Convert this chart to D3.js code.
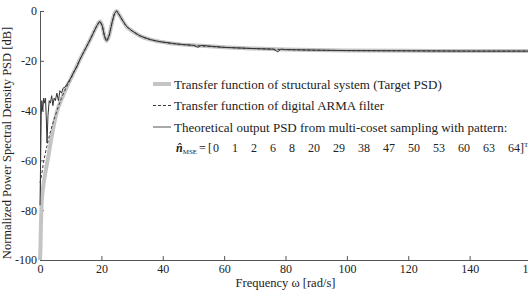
<!DOCTYPE html>
<head>
<meta charset="utf-8">
<style>
body { margin: 0; background: #fff; }
svg text { font-family: "Liberation Serif", "Times New Roman", Times, Tinos, "DejaVu Serif", "Noto Serif", serif; }
</style>
<script src="https://d3js.org/d3.v7.min.js"></script>
</head>
<body>
<svg id="psdSvg" width="528" height="292"></svg>
<script>

var width = 528;
var height = 292;

// target PSD of the structural system (thick light grey)
var targetW  = [0, 0.15, 0.3, 0.5, 1.0, 1.6, 2.7, 3.8, 5.4, 7.5, 10.3, 13, 16.3, 18.5, 19.5, 20.3, 21, 21.7, 22.5, 23.5, 24.3, 25, 25.8, 27, 28.2, 30, 32.6, 36, 39, 45, 50, 60, 70, 80, 100, 120, 140, 160];
var targetDb = [-100, -95, -86, -78, -71, -66, -58.5, -50.5, -41, -34, -26.5, -19.5, -11.6, -6, -4.2, -6, -10, -12, -10, -4.5, -1, 0, -1.5, -4, -6.2, -8, -10, -11.5, -12.3, -13.3, -13.8, -14.6, -15.1, -15.5, -15.9, -16, -16.1, -16.1];

// digital ARMA filter (dashed)
var armaW  = [0, 0.5, 1, 1.6, 2.5, 3.5, 5, 7, 10.3, 13, 16.3, 18.5, 19.5, 20.3, 21, 21.7, 22.5, 23.5, 24.3, 25, 25.8, 27, 28.2, 30, 32.6, 36, 39, 45, 50, 60, 70, 80, 100, 120, 140, 160];
var armaDb = [-69, -66, -62, -58, -53, -48, -42, -35, -26.5, -19.5, -11.6, -6, -4.2, -6, -10, -12, -10, -4.5, -1, 0, -1.5, -4, -6.2, -8, -10, -11.5, -12.3, -13.3, -13.8, -14.6, -15.1, -15.5, -15.9, -16, -16.1, -16.1];

// theoretical output PSD from multi-coset sampling (thin solid)
var outW  = [0, 0.2, 0.4, 0.6, 0.9, 1.2, 1.5, 1.8, 2.1, 2.3, 2.6, 3.0, 3.4, 3.8, 4.2, 4.6, 5.0, 5.5, 6.0, 6.5, 7.0, 7.5, 8.2, 9, 10, 11, 12, 13, 16.3, 18.5, 19.5, 20.3, 21, 21.7, 22.5, 23.5, 24.3, 25, 25.8, 27, 28.2, 30, 32.6, 36, 39, 45, 50, 51.5, 52.5, 60, 70, 76, 77.5, 78.5, 80, 100, 120, 140, 160];
var outDb = [-78, -60, -42, -36, -40, -35, -37, -35, -45, -53, -42, -36, -37, -34, -38, -35, -36, -33, -36, -32, -33, -31, -30.5, -29, -27, -24.5, -22.5, -19.5, -11.6, -6, -4.2, -6, -10, -12, -10, -4.5, -1, 0, -1.5, -4, -6.2, -8, -10, -11.5, -12.3, -13.3, -13.8, -14.6, -13.8, -14.6, -15.1, -15.3, -16.4, -15.3, -15.5, -15.9, -16, -16.1, -16.1];

var xTicks = [0, 20, 40, 60, 80, 100, 120, 140, 160];
var yTicks = [0, -20, -40, -60, -80, -100];

var legendLabels = [
    "Transfer function of structural system (Target PSD)",
    "Transfer function of digital ARMA filter",
    "Theoretical output PSD from multi-coset sampling with pattern:"
];
var patternValues = [0, 1, 2, 6, 8, 20, 29, 38, 47, 50, 53, 60, 63, 64];

var serif = "'Liberation Serif', 'Times New Roman', Times, Tinos, 'DejaVu Serif', serif";

var svg = d3.select("#psdSvg");

var x = d3.scaleLinear().domain([0, 160]).range([40, 531]);
var y = d3.scaleLinear().domain([-100, 0]).range([260, 11]);

var axisColor = "#555";
// plain hyphen for negative labels, like the original
var plain = function(d) { return String(d); };

// axes, ticks pointing inward
var xAxis = svg.append("g")
    .attr("transform", "translate(0," + y(-100) + ")")
    .call(d3.axisBottom(x).tickValues(xTicks).tickFormat(plain).tickSizeInner(-4).tickSizeOuter(0).tickPadding(4));
var yAxis = svg.append("g")
    .attr("transform", "translate(" + x(0) + ",0)")
    .call(d3.axisLeft(y).tickValues(yTicks).tickFormat(plain).tickSizeInner(-4).tickSizeOuter(0).tickPadding(3));

[xAxis, yAxis].forEach(function(a) {
    a.attr("font-family", serif);
    a.select(".domain").attr("stroke", axisColor);
    a.selectAll(".tick line").attr("stroke", axisColor);
    a.selectAll(".tick text")
        .attr("fill", "#222")
        .style("font-size", "12px");
});
xAxis.selectAll(".tick text").attr("y", 3).attr("dy", "0.8em");

var line = d3.line()
    .x(function(d) { return x(d[0]); })
    .y(function(d) { return y(d[1]); })
    .curve(d3.curveMonotoneX);

function pairs(ws, ds) {
    return ws.map(function(w, i) { return [w, ds[i]]; });
}

// target (thick grey)
svg.append("path")
    .datum(pairs(targetW, targetDb))
    .attr("d", line)
    .attr("fill", "none")
    .attr("stroke", "#c4c4c4")
    .attr("stroke-width", 4);

// ARMA filter (dashed)
svg.append("path")
    .datum(pairs(armaW, armaDb))
    .attr("d", line)
    .attr("fill", "none")
    .attr("stroke", "#3a3a3a")
    .attr("stroke-width", 1)
    .attr("stroke-dasharray", "3,2");

// theoretical output (thin solid)
svg.append("path")
    .datum(pairs(outW, outDb))
    .attr("d", d3.line().x(function(d) { return x(d[0]); }).y(function(d) { return y(d[1]); }))
    .attr("fill", "none")
    .attr("stroke", "#333")
    .attr("stroke-width", 1);

// legend
var legendStyles = [
    { stroke: "#c4c4c4", width: 4, dash: null },
    { stroke: "#3a3a3a", width: 1, dash: "3,2" },
    { stroke: "#555", width: 1, dash: null }
];
var legend = svg.append("g").attr("transform", "translate(153,84)");
legendLabels.forEach(function(label, i) {
    var g = legend.append("g").attr("transform", "translate(0," + (i * 21.5) + ")");
    g.append("line")
        .attr("x1", 0).attr("x2", 18)
        .attr("stroke", legendStyles[i].stroke)
        .attr("stroke-width", legendStyles[i].width)
        .attr("stroke-dasharray", legendStyles[i].dash);
    g.append("text")
        .attr("x", 21).attr("dy", "0.35em")
        .attr("fill", "#222")
        .style("font-size", "13px")
        .text(label);
});

// pattern line: n_MSE = [0 1 2 ...]^T
var pat = svg.append("text")
    .attr("x", 176).attr("y", 152)
    .attr("fill", "#222")
    .style("font-size", "12px");
pat.append("tspan").style("font-weight", "bold").style("font-style", "italic").text("n\u0302");
pat.append("tspan").attr("dy", 2).style("font-size", "7px").text("MSE");
pat.append("tspan").attr("x", 199).attr("dy", -2).text("=");
pat.append("tspan").attr("x", 208).text("[");
var px = 213;
patternValues.forEach(function(v) {
    pat.append("tspan").attr("x", px).text(v);
    px += String(v).length * 6 + 13;
});
pat.append("tspan").text("]");
pat.append("tspan").attr("dy", -5).style("font-size", "7px").text("T");

// axis titles
svg.append("text")
    .attr("x", x(80)).attr("y", 287)
    .attr("text-anchor", "middle")
    .attr("fill", "#222")
    .style("font-size", "12.5px")
    .text("Frequency \u03c9 [rad/s]");

svg.append("text")
    .attr("transform", "translate(11,143) rotate(-90)")
    .attr("text-anchor", "middle")
    .attr("fill", "#222")
    .style("font-size", "12.5px")
    .text("Normalized Power Spectral Density PSD [dB]");

</script>
</body>
</html>
